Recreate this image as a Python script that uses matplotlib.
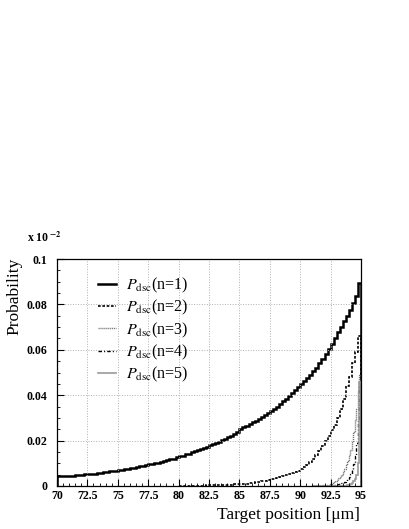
import numpy as np
import matplotlib
matplotlib.use("Agg")
import matplotlib.pyplot as plt

plt.rcParams['font.family'] = ['Liberation Serif', 'DejaVu Serif']
plt.rcParams['mathtext.fontset'] = 'stix'

# ---------------------------------------------------------------- data
# n=1 : 0.25 um bins from 70 to 95
p1 = [0.0042, 0.0043, 0.0044, 0.0045,
      0.0045, 0.0046, 0.0047, 0.0048,
      0.0050, 0.0051, 0.0053, 0.0054,
      0.0055, 0.0057, 0.0058, 0.0060,
      0.0062, 0.0064, 0.0066, 0.0068,
      0.0069, 0.0071, 0.0074, 0.0076,
      0.0078, 0.0080, 0.0083, 0.0086,
      0.0088, 0.0091, 0.0095, 0.0098,
      0.0100, 0.0103, 0.0106, 0.0110,
      0.0113, 0.0117, 0.0121, 0.0126,
      0.0130, 0.0134, 0.0139, 0.0143,
      0.0148, 0.0155, 0.0158, 0.0161,
      0.0166, 0.0173, 0.0180, 0.0186,
      0.0190, 0.0196, 0.0202, 0.0209,
      0.0215, 0.0222, 0.0230, 0.0237,
      0.0250, 0.0258, 0.0265, 0.0272,
      0.0280, 0.0288, 0.0296, 0.0305,
      0.0313, 0.0322, 0.0331, 0.0340,
      0.0350, 0.0362, 0.0374, 0.0385,
      0.0397, 0.0410, 0.0422, 0.0435,
      0.0448, 0.0462, 0.0476, 0.0490,
      0.0505, 0.0522, 0.0540, 0.0560,
      0.0580, 0.0603, 0.0627, 0.0652,
      0.0678, 0.0700, 0.0725, 0.0750,
      0.0775, 0.0805, 0.0835, 0.0895]
edges1 = np.linspace(70, 95, len(p1) + 1)

# n=2 : 0.25 um bins from 80 to 95
p2 = [0.0, 0.0, 0.0, 0.0001,
      0.0001, 0.0001, 0.0002, 0.0002,
      0.0002, 0.0003, 0.0003, 0.0004,
      0.0004, 0.0004, 0.0005, 0.0005,
      0.0006, 0.0006, 0.0007, 0.0008,
      0.0009, 0.0010, 0.0011, 0.0013,
      0.0014, 0.0016, 0.0018, 0.0020,
      0.0023, 0.0026, 0.0029, 0.0032,
      0.0036, 0.0040, 0.0044, 0.0048,
      0.0053, 0.0058, 0.0063, 0.0068,
      0.0074, 0.0082, 0.0092, 0.0104,
      0.0120, 0.0135, 0.0155, 0.0178,
      0.0200, 0.0222, 0.0245, 0.0270,
      0.0300, 0.0340, 0.0385, 0.0440,
      0.0480, 0.0540, 0.0590, 0.0660]
edges2 = np.linspace(80, 95, len(p2) + 1)

# n=3,4,5 : 0.125 um bins from 91 to 95
p3 = [0.0, 0.0001, 0.0001, 0.0001, 0.0002, 0.0002, 0.0002, 0.0003,
      0.0003, 0.0004, 0.0006, 0.0008, 0.0011, 0.0014, 0.0018, 0.0023,
      0.0028, 0.0034, 0.0041, 0.0050, 0.0062, 0.0076, 0.0092, 0.0110,
      0.0135, 0.0160, 0.0195, 0.0240, 0.0290, 0.0340, 0.0420, 0.0490]
p4 = [0.0, 0.0, 0.0, 0.0, 0.0, 0.0, 0.0, 0.0,
      0.0, 0.0001, 0.0001, 0.0002, 0.0002, 0.0003, 0.0004, 0.0005,
      0.0006, 0.0008, 0.0010, 0.0012, 0.0015, 0.0018, 0.0023, 0.0030,
      0.0040, 0.0052, 0.0070, 0.0095, 0.0130, 0.0190, 0.0290, 0.0440]
p5 = [0.0, 0.0, 0.0, 0.0, 0.0, 0.0, 0.0, 0.0,
      0.0, 0.0, 0.0, 0.0, 0.0, 0.0, 0.0, 0.0,
      0.0, 0.0, 0.0, 0.0, 0.0001, 0.0001, 0.0002, 0.0003,
      0.0005, 0.0008, 0.0013, 0.0020, 0.0030, 0.0050, 0.0100, 0.0460]
edges345 = np.linspace(91, 95, len(p3) + 1)

labels = [r'$P_{\rm dsc}$(n=%d)' % i for i in range(1, 6)]

# ---------------------------------------------------------------- plot
fig = plt.figure(figsize=(4.09, 5.29), dpi=100)
ax = fig.add_axes([57/409, 43/529, 304/409, 227/529])

ax.stairs(p1, edges1, color='black', lw=1.8, label=labels[0])
ax.stairs(p2, edges2, color='black', lw=1.2, linestyle=(0, (1.6, 1.0)), label=labels[1])
ax.stairs(p3, edges345, color='#707070', lw=1.0, linestyle=(0, (0.8, 0.6)), label=labels[2])
ax.stairs(p4, edges345, color='black', lw=1.0, linestyle=(0, (2.5, 1.5, 0.8, 1.5)), label=labels[3])
ax.stairs(p5, edges345, color='#9a9a9a', lw=1.2, label=labels[4])

ax.set_xlim(70, 95)
ax.set_ylim(0, 0.1)
ax.set_xticks(np.arange(70, 95.1, 2.5))
ax.set_xticklabels(['70', '72.5', '75', '77.5', '80', '82.5', '85', '87.5', '90', '92.5', '95'])
ax.set_yticks([0, 0.02, 0.04, 0.06, 0.08, 0.1])
ax.set_yticklabels(['0', '0.02', '0.04', '0.06', '0.08', '0.1'])
ax.set_xticks(np.arange(70, 95.01, 0.5), minor=True)
ax.set_yticks(np.arange(0, 0.1001, 0.005), minor=True)
ax.tick_params(which='both', direction='in', top=False, right=False)
ax.tick_params(which='major', length=5, width=0.8, labelsize=8.6)
ax.tick_params(which='minor', length=2.5, width=0.6)
ax.tick_params(axis='y', pad=7)
ax.tick_params(axis='x', pad=3)
for lab in ax.get_xticklabels() + ax.get_yticklabels():
    lab.set_fontweight('bold')
ax.grid(True, which='major', linestyle=':', color='#b0b0b0', lw=0.7)
for s in ax.spines.values():
    s.set_linewidth(0.9)

ax.legend(loc='upper left', bbox_to_anchor=(0.115, 0.955), frameon=False,
          fontsize=11.5, handlelength=1.1, handletextpad=0.6, labelspacing=0.2,
          borderaxespad=0)

fig.text(14/409, 1 - 258/529, 'Probability', rotation=90, ha='center', va='top', fontsize=12.5)
fig.text(360/409, 1 - 519/529, u'Target position [\u03bcm]', ha='right', va='baseline', fontsize=12.5)
fig.text(27/409, 1 - 242/529, r'x 10$\,^{\mathbf{-2}}$', ha='left', va='baseline',
         fontsize=8.5, fontweight='bold')

fig.savefig("out.png", dpi=100)
